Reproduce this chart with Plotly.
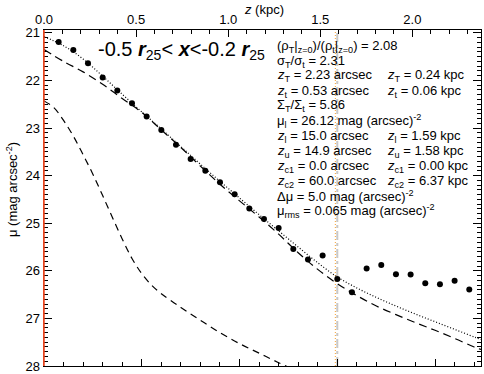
import plotly.graph_objects as go

# ---------------- data ----------------
ARCSEC_PER_KPC = 9.42

# observed profile: z in arcsec, mu in mag arcsec^-2
obs_z = [0.75, 1.5, 2.25, 3.0, 3.75, 4.5, 5.25, 6.0, 6.75, 7.5, 8.25, 9.0, 9.75, 10.5,
         11.25, 12.0, 12.75, 13.5, 14.25, 15.0, 15.75, 16.5, 17.25, 18.0, 18.75, 19.5,
         20.25, 21.0, 21.75]
obs_mu = [21.19, 21.36, 21.64, 21.94, 22.21, 22.48, 22.76, 23.04, 23.35, 23.65, 23.90,
          24.14, 24.39, 24.69, 24.91, 25.10, 25.54, 25.76, 25.68, 26.17, 26.45, 25.95,
          25.88, 26.07, 26.08, 26.26, 26.28, 26.21, 26.39]

# total model (dotted)
tot_z = [0, 1, 2, 3, 4, 5, 6, 7, 8, 9, 10, 11, 12, 13, 14, 15, 16, 17, 18, 19, 20, 21, 22, 22.4]
tot_mu = [21.08, 21.27, 21.55, 21.91, 22.29, 22.66, 23.02, 23.39, 23.76, 24.12, 24.47,
          24.82, 25.16, 25.50, 25.83, 26.13, 26.36, 26.56, 26.74, 26.91, 27.07, 27.23,
          27.39, 27.45]

# thick disc (upper dashed)
thick_z = [0, 1, 2, 3, 4, 5, 6, 7, 8, 9, 10, 11, 12, 13, 14, 15, 16, 17, 18, 19, 20, 21, 22, 22.4]
thick_mu = [21.35, 21.60, 21.82, 22.08, 22.38, 22.67, 23.04, 23.41, 23.80, 24.18, 24.53,
            24.87, 25.23, 25.62, 25.97, 26.27, 26.52, 26.74, 26.92, 27.09, 27.25, 27.42,
            27.60, 27.66]

# thin disc (lower dashed)
thin_z = [0, 0.5, 1, 1.5, 2, 2.5, 3, 3.5, 4, 4.5, 5, 5.5, 6, 7, 8, 9, 10, 11, 12, 13]
thin_mu = [22.43, 22.57, 22.84, 23.17, 23.56, 23.97, 24.42, 24.88, 25.33, 25.74, 26.06,
           26.30, 26.48, 26.77, 27.04, 27.30, 27.53, 27.73, 27.93, 28.12]

z_l = 15.0    # arcsec
z_u = 14.9    # arcsec
z_c1 = 0.0    # arcsec

x_range = [0.0, 22.35]          # arcsec
y_range = [28.0, 20.94]         # mag (reversed)
kpc_ticks = [0.0, 0.5, 1.0, 1.5, 2.0]

info_left = [
    "(ρ<sub>T</sub>|<sub>z=0</sub>)/(ρ<sub>t</sub>|<sub>z=0</sub>) = 2.08",
    "σ<sub>T</sub>/σ<sub>t</sub> = 2.31",
    "<i>z</i><sub>T</sub> = 2.23 arcsec",
    "<i>z</i><sub>t</sub> = 0.53 arcsec",
    "Σ<sub>T</sub>/Σ<sub>t</sub> = 5.86",
    "μ<sub>l</sub> = 26.12 mag (arcsec)<sup>-2</sup>",
    "<i>z</i><sub>l</sub> = 15.0 arcsec",
    "<i>z</i><sub>u</sub> = 14.9 arcsec",
    "<i>z</i><sub>c1</sub> = 0.0 arcsec",
    "<i>z</i><sub>c2</sub> = 60.0 arcsec",
    "Δμ = 5.0 mag (arcsec)<sup>-2</sup>",
    "μ<sub>rms</sub> = 0.065 mag (arcsec)<sup>-2</sup>",
]
info_right = {
    2: "<i>z</i><sub>T</sub> = 0.24 kpc",
    3: "<i>z</i><sub>t</sub> = 0.06 kpc",
    6: "<i>z</i><sub>l</sub> = 1.59 kpc",
    7: "<i>z</i><sub>u</sub> = 1.58 kpc",
    8: "<i>z</i><sub>c1</sub> = 0.00 kpc",
    9: "<i>z</i><sub>c2</sub> = 6.37 kpc",
}

FONT = "Liberation Sans, Arial, Helvetica, sans-serif"
W, H = 484, 374
ML, MR, MT, MB = 44, 3, 30, 8
PW, PH = W - ML - MR, H - MT - MB

fig = go.Figure()

# vertical marker lines
fig.add_trace(go.Scatter(x=[z_l, z_l], y=[y_range[0], y_range[1]], mode="lines",
                         line=dict(color="#c8c8c8", width=2, dash="dashdot"),
                         showlegend=False, hoverinfo="skip"))
fig.add_trace(go.Scatter(x=[z_u, z_u], y=[y_range[0], y_range[1]], mode="lines",
                         line=dict(color="#f5a030", width=1, dash="1px,2px"),
                         showlegend=False, hoverinfo="skip"))

# model curves
fig.add_trace(go.Scatter(x=thin_z, y=thin_mu, mode="lines", line_shape="spline",
                         line=dict(color="black", width=1.2, dash="7px,5px"),
                         showlegend=False))
fig.add_trace(go.Scatter(x=thick_z, y=thick_mu, mode="lines", line_shape="spline",
                         line=dict(color="black", width=1.2, dash="8px,5px"),
                         showlegend=False))
fig.add_trace(go.Scatter(x=tot_z, y=tot_mu, mode="lines", line_shape="spline",
                         line=dict(color="black", width=1.2, dash="1px,2px"),
                         showlegend=False))
# data points
fig.add_trace(go.Scatter(x=obs_z, y=obs_mu, mode="markers",
                         marker=dict(color="black", size=6),
                         showlegend=False))
# dummy trace for the top/right axes
fig.add_trace(go.Scatter(x=[None], y=[None], xaxis="x2", yaxis="y2",
                         showlegend=False))

# red line at z_c1 (paper coordinate derived from the x scale)
xc1 = (z_c1 - x_range[0]) / (x_range[1] - x_range[0])
fig.add_shape(type="line", xref="paper", yref="paper", x0=xc1, x1=xc1, y0=0, y1=1,
              line=dict(color="#e8431c", width=1.5), layer="above")

tickfont = dict(family=FONT, size=13, color="black")
fig.update_layout(
    width=W, height=H,
    margin=dict(l=ML, r=MR, t=MT, b=MB, pad=0, autoexpand=False),
    paper_bgcolor="white", plot_bgcolor="white",
    hovermode=False,
    font=dict(family=FONT, size=13, color="black"),
    xaxis=dict(range=x_range, showgrid=False, zeroline=False, automargin=False,
               showline=True, linecolor="black", linewidth=1, mirror=False,
               ticks="inside", ticklen=7, tickcolor="black", tickwidth=1,
               dtick=5, tick0=0, showticklabels=False,
               minor=dict(ticks="inside", ticklen=4, dtick=1, tickcolor="black",
                          showgrid=False)),
    xaxis2=dict(overlaying="x", side="top", automargin=False,
                range=[x_range[0] / ARCSEC_PER_KPC, x_range[1] / ARCSEC_PER_KPC],
                showgrid=False, zeroline=False,
                showline=True, linecolor="black", linewidth=1,
                ticks="inside", ticklen=7, tickcolor="black", tickwidth=1,
                tickvals=kpc_ticks, ticktext=[f"{v:.1f}" for v in kpc_ticks],
                tickfont=tickfont,
                minor=dict(ticks="inside", ticklen=4, dtick=0.1, tickcolor="black",
                           showgrid=False)),
    yaxis=dict(range=y_range, showgrid=False, zeroline=False, automargin=False,
               showline=True, linecolor="#e8431c", linewidth=1.5, mirror=False,
               ticks="inside", ticklen=8, tickcolor="black", tickwidth=1,
               dtick=1, tick0=21, tickfont=tickfont,
               minor=dict(ticks="inside", ticklen=4, dtick=0.1, tickcolor="black",
                          showgrid=False)),
    yaxis2=dict(overlaying="y", side="right", range=y_range, showgrid=False,
                automargin=False,
                zeroline=False, showline=True, linecolor="black", linewidth=1,
                ticks="inside", ticklen=8, tickcolor="black", tickwidth=1,
                dtick=1, tick0=21, showticklabels=False,
                minor=dict(ticks="inside", ticklen=4, dtick=0.1, tickcolor="black",
                           showgrid=False)),
)

def px_to_paper_x(px):
    return (px - ML) / PW

def px_to_paper_y(py):
    return (H - MB - py) / PH

ann = []
# axis titles
ann.append(dict(text="<i>z</i> (kpc)", x=px_to_paper_x(264), y=px_to_paper_y(10),
                xref="paper", yref="paper", showarrow=False,
                font=dict(family=FONT, size=13), xanchor="center", yanchor="middle"))
ann.append(dict(text="μ (mag arcsec<sup>-2</sup>)", x=px_to_paper_x(12),
                y=px_to_paper_y(190), xref="paper", yref="paper", showarrow=False,
                textangle=-90, font=dict(family=FONT, size=13),
                xanchor="center", yanchor="middle"))
# panel label
ann.append(dict(text="-0.5 <b><i>r</i></b><sub>25</sub>< <b><i>x</i></b><-0.2 <b><i>r</i></b><sub>25</sub>",
                x=px_to_paper_x(96), y=px_to_paper_y(50), xref="paper", yref="paper",
                showarrow=False, font=dict(family=FONT, size=20),
                xanchor="left", yanchor="middle"))
# info block
for i, t in enumerate(info_left):
    yc = 46 + 15 * i
    ann.append(dict(text=t, x=px_to_paper_x(275), y=px_to_paper_y(yc),
                    xref="paper", yref="paper", showarrow=False,
                    font=dict(family=FONT, size=13), xanchor="left", yanchor="middle"))
    if i in info_right:
        ann.append(dict(text=info_right[i], x=px_to_paper_x(385), y=px_to_paper_y(yc),
                        xref="paper", yref="paper", showarrow=False,
                        font=dict(family=FONT, size=13), xanchor="left", yanchor="middle"))
fig.update_layout(annotations=ann)

# remove the browser's default page margin so the figure sits at the window origin
fig.write_html("out.html",
               config={"displayModeBar": False, "staticPlot": True},
               post_script="document.body.style.margin='0';document.body.style.padding='0';")
